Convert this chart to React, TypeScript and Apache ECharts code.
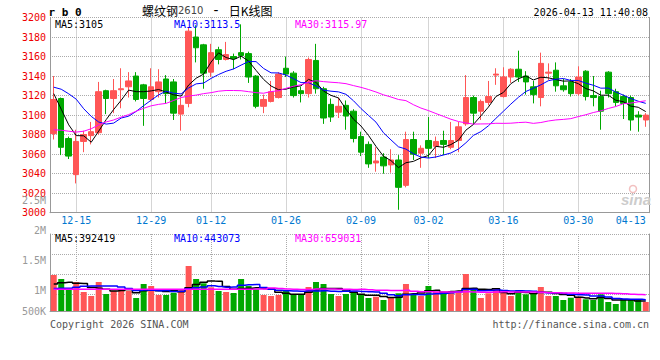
import React, { useEffect, useRef } from 'react';
import * as echarts from 'echarts';

const dates = [
  '12-10','12-11','12-12',
  '12-15','12-16','12-17','12-18','12-19',
  '12-22','12-23','12-24','12-25','12-26',
  '12-29','12-30','12-31',
  '01-05','01-06','01-07','01-08','01-09',
  '01-12','01-13','01-14','01-15','01-16',
  '01-19','01-20','01-21','01-22','01-23',
  '01-26','01-27','01-28','01-29','01-30',
  '02-02','02-03','02-04','02-05','02-06',
  '02-09','02-10','02-11','02-12','02-13',
  '02-24','02-25','02-26','02-27',
  '03-02','03-03','03-04','03-05','03-06',
  '03-09','03-10','03-11','03-12','03-13',
  '03-16','03-17','03-18','03-19','03-20',
  '03-23','03-24','03-25','03-26','03-27',
  '03-30','03-31','04-01','04-02','04-03',
  '04-07','04-08','04-09','04-10',
  '04-13',
];

const opens = [
  3081,3117,3076,3039,3073,3079,3082,3125,3117,3126,
  3129,3140,3131,3116,3124,3137,3134,3101,3112,3180,
  3172,3144,3167,3157,3160,3164,3163,3140,3109,3114,
  3118,3148,3143,3125,3122,3156,3127,3111,3103,3110,
  3104,3078,3070,3051,3057,3049,3054,3028,3075,3061,
  3074,3068,3074,3067,3074,3091,3118,3104,3113,3141,
  3119,3139,3147,3140,3129,3118,3143,3146,3130,3134,
  3122,3145,3120,3119,3144,3124,3119,3118,3100,3095,
];
const closes = [
  3116,3067,3058,3073,3080,3083,3124,3117,3125,3127,
  3135,3116,3117,3129,3134,3122,3102,3110,3186,3169,
  3143,3164,3157,3162,3158,3161,3139,3109,3116,3124,
  3142,3142,3120,3122,3157,3127,3097,3098,3109,3099,
  3076,3062,3050,3053,3048,3054,3026,3075,3060,3066,
  3066,3073,3070,3074,3088,3118,3102,3114,3119,3142,
  3139,3147,3139,3134,3121,3153,3144,3130,3126,3122,
  3139,3119,3118,3104,3122,3113,3112,3095,3098,3100,
];
const lows = [
  3075,3059,3055,3030,3062,3070,3080,3101,3102,3107,
  3118,3114,3089,3114,3118,3112,3095,3084,3108,3154,
  3127,3139,3152,3156,3147,3157,3133,3107,3102,3113,
  3117,3139,3118,3113,3118,3122,3091,3093,3097,3085,
  3072,3058,3046,3042,3040,3041,3003,3026,3054,3046,
  3056,3056,3059,3065,3062,3089,3090,3095,3110,3131,
  3118,3133,3134,3121,3112,3109,3136,3124,3124,3119,
  3120,3115,3109,3085,3118,3109,3096,3084,3083,3088,
];
const highs = [
  3140,3118,3078,3085,3084,3093,3134,3126,3137,3148,
  3144,3144,3132,3148,3147,3141,3137,3118,3190,3192,
  3173,3173,3170,3175,3163,3193,3165,3141,3121,3135,
  3144,3160,3145,3129,3159,3173,3129,3117,3118,3115,
  3106,3083,3073,3067,3061,3065,3059,3083,3083,3069,
  3098,3078,3084,3093,3093,3141,3120,3116,3135,3148,
  3149,3148,3166,3145,3135,3164,3153,3154,3137,3137,
  3150,3146,3140,3125,3145,3127,3121,3120,3104,3102,
];
const volumes = [
  1403000,1247000,857000,1130000,740000,584000,1130000,662000,791000,818000,
  791000,506000,1052000,974000,623000,623000,713000,818000,1753000,1247000,
  1079000,923000,779000,740000,701000,1247000,974000,845000,623000,584000,
  623000,791000,662000,623000,935000,1130000,1052000,662000,584000,662000,
  713000,623000,506000,557000,429000,518000,690000,1052000,662000,584000,
  974000,752000,690000,779000,713000,1442000,818000,506000,690000,857000,
  713000,584000,818000,651000,662000,935000,584000,584000,429000,518000,
  557000,456000,429000,651000,351000,273000,456000,429000,456000,351000,
];

// averages as drawn before enough in-window history exists
const priceMa5Lead = [3122, 3106, 3090, 3079];
const priceMa10Lead = [3128.6, 3126.5, 3121.8, 3116.3, 3106.5, 3098.7, 3092.9, 3090.8, 3091.8];
const priceMa30Lead = [
  3085, 3084.5, 3083.5, 3082.6, 3083.5, 3086, 3090, 3093, 3095, 3098,
  3100.5, 3104, 3107, 3109.5, 3111, 3112, 3115, 3118, 3119.5, 3120.5,
  3122, 3123, 3124.5, 3125.2, 3125.2, 3125, 3124, 3123, 3122.4,
];
const volMa5Lead = [1052000, 1104000, 1117000, 1078000];
const volMa10Lead = [880000, 885000, 890000, 930000, 960000, 970000, 975000, 975000, 975000];
const volMa30Lead = [
  845000, 845000, 846000, 848000, 850000, 850000, 848000, 846000, 845000, 845000,
  845000, 846000, 846000, 845000, 845000, 844000, 844000, 845000, 846000, 848000,
  850000, 850000, 850000, 852000, 852000, 852000, 852000, 853000, 855000,
];

const labelDates = ['12-15', '12-29', '01-12', '01-26', '02-09', '03-02', '03-16', '03-30', '04-13'];
const gridDates = ['12-15', '12-29', '01-12', '01-26', '02-09', '03-02', '03-16', '03-30'];
const volumeTickLabels = ['2.5M', '2M', '1.5M', '1M', '500K'];
const priceMaLabels = ['MA5:3105', 'MA10:3113.5', 'MA30:3115.97'];
const volumeMaLabels = ['MA5:392419', 'MA10:443073', 'MA30:659031'];

const RED = '#ff5656';
const GREEN = '#00a800';
const MA_COLORS = ['#000000', '#0000ff', '#ff00ff'];
const MONO = '"DejaVu Sans Mono", monospace';
const GRID_LINE = { type: 'dotted' as const, color: '#aaaaaa', width: 1 };
const AXIS_LINE = { color: '#999999', width: 1 };

function movingAverage(values: number[], n: number, lead: number[]): number[] {
  return values.map((_, i) => {
    if (i < n - 1) return lead[i];
    let s = 0;
    for (let j = i - n + 1; j <= i; j++) s += values[j];
    return Math.round((s / n) * 100) / 100;
  });
}

export default function App() {
  const ref = useRef<HTMLDivElement>(null);
  useEffect(() => {
    document.body.style.margin = '0';
    const chart = echarts.init(ref.current!, null, { renderer: 'svg' });

    const candleData = dates.map((_, i) => [opens[i], closes[i], lows[i], highs[i]]);
    const volData = volumes.map((v, i) => ({
      value: v,
      itemStyle: { color: closes[i] >= opens[i] ? RED : GREEN },
    }));
    const pMa = [
      movingAverage(closes, 5, priceMa5Lead),
      movingAverage(closes, 10, priceMa10Lead),
      movingAverage(closes, 30, priceMa30Lead),
    ];
    const vMa = [
      movingAverage(volumes, 5, volMa5Lead),
      movingAverage(volumes, 10, volMa10Lead),
      movingAverage(volumes, 30, volMa30Lead),
    ];

    const gridFn = (_i: number, v: string) => gridDates.includes(v);
    const labelFn = (_i: number, v: string) => labelDates.includes(v);

    const maTextX = [55, 174, 295];
    const graphics: any[] = [];
    priceMaLabels.forEach((t, i) =>
      graphics.push({
        type: 'text', x: maTextX[i], y: 24, z: 100,
        style: { text: t, fill: MA_COLORS[i], font: `10px ${MONO}`, verticalAlign: 'middle' },
      })
    );
    volumeMaLabels.forEach((t, i) =>
      graphics.push({
        type: 'text', x: maTextX[i], y: 238.5, z: 100,
        style: { text: t, fill: MA_COLORS[i], font: `10px ${MONO}`, verticalAlign: 'middle' },
      })
    );
    volumeTickLabels.forEach((t, i) =>
      graphics.push({
        type: 'text', x: 46, y: Math.min(200 + 30 * i, 311), z: 100,
        style: { text: t, fill: '#999999', font: `10px ${MONO}`, align: 'right', verticalAlign: 'middle' },
      })
    );
    graphics.push(
      {
        type: 'text', x: 48.5, y: 12, z: 100,
        style: { text: 'r b 0', fill: '#000', font: `bold 11px ${MONO}`, verticalAlign: 'middle' },
      },
      {
        type: 'text', x: 142, y: 10, z: 100,
        style: {
          text: '{a|螺纹钢}{b|2610}{c| - }{a|日K线图}',
          verticalAlign: 'middle',
          rich: {
            a: { fontFamily: '"Noto Sans CJK SC", sans-serif', fontSize: 12, fill: '#000' },
            b: { fontFamily: '"DejaVu Sans", sans-serif', fontSize: 10, fill: '#444' },
            c: { fontFamily: MONO, fontSize: 14, fill: '#000' },
          },
        },
      },
      {
        type: 'text', x: 648, y: 12, z: 100,
        style: { text: '2026-04-13 11:40:08', fill: '#000', font: `10px ${MONO}`, align: 'right', verticalAlign: 'middle' },
      },
      {
        type: 'text', x: 50, y: 324, z: 100,
        style: { text: 'Copyright 2026 SINA.COM', fill: '#555', font: `10px ${MONO}`, verticalAlign: 'middle' },
      },
      {
        type: 'text', x: 649, y: 324, z: 100,
        style: { text: 'http://finance.sina.com.cn', fill: '#555', font: `10px ${MONO}`, align: 'right', verticalAlign: 'middle' },
      },
      {
        type: 'circle', z: 5, shape: { cx: 633, cy: 189, r: 3.5 },
        style: { fill: 'none', stroke: '#f2c0c0', lineWidth: 1.5 },
      },
      {
        type: 'text', x: 636, y: 199, z: 5,
        style: { text: 'sina', fill: '#cccccc', font: 'italic bold 15px "Liberation Sans", sans-serif', align: 'center', verticalAlign: 'middle' },
      }
    );

    const option: any = {
      animation: false,
      backgroundColor: '#ffffff',
      grid: [
        { left: 50, top: 17.5, width: 599.5, height: 195.2 },
        { left: 50, top: 234, width: 599.5, height: 77 },
      ],
      xAxis: [
        {
          type: 'category', gridIndex: 0, data: dates, boundaryGap: true,
          axisLine: { lineStyle: AXIS_LINE }, axisTick: { show: false },
          axisLabel: {
            interval: labelFn, color: '#0078d0', fontFamily: MONO, fontSize: 10, margin: 3,
            alignMaxLabel: 'right', showMaxLabel: true, hideOverlap: false,
          },
          splitLine: { show: true, interval: gridFn, alignWithLabel: true, lineStyle: GRID_LINE },
        },
        {
          type: 'category', gridIndex: 1, data: dates, boundaryGap: true, position: 'top',
          axisLine: { lineStyle: AXIS_LINE }, axisTick: { show: false }, axisLabel: { show: false },
          splitLine: { show: true, interval: gridFn, alignWithLabel: true, lineStyle: GRID_LINE },
        },
      ],
      yAxis: [
        {
          type: 'value', gridIndex: 0, min: 3000, max: 3200, interval: 20,
          axisLine: { show: true, lineStyle: AXIS_LINE }, axisTick: { show: false },
          axisLabel: { color: '#ee0000', fontFamily: MONO, fontSize: 10, margin: 4, formatter: (v: number) => String(v) },
          splitLine: { show: true, lineStyle: GRID_LINE },
        },
        {
          type: 'value', gridIndex: 0, position: 'right', min: 0, max: 1,
          axisLine: { show: true, lineStyle: AXIS_LINE }, axisTick: { show: false },
          axisLabel: { show: false }, splitLine: { show: false },
        },
        {
          type: 'value', gridIndex: 1, min: 0, max: 3000000,
          axisLine: { show: true, lineStyle: AXIS_LINE }, axisTick: { show: false },
          axisLabel: { show: false }, splitLine: { show: false },
        },
        {
          type: 'value', gridIndex: 1, position: 'right', inverse: true, min: 0, max: 3.85, interval: 1,
          axisLine: { show: true, lineStyle: AXIS_LINE }, axisTick: { show: false },
          axisLabel: { show: false }, splitLine: { show: true, lineStyle: GRID_LINE },
        },
      ],
      series: [
        {
          type: 'candlestick', xAxisIndex: 0, yAxisIndex: 0, data: candleData, barWidth: 6,
          itemStyle: { color: RED, color0: GREEN, borderColor: RED, borderColor0: GREEN, borderWidth: 1 },
        },
        ...pMa.map((d, i) => ({
          type: 'line', xAxisIndex: 0, yAxisIndex: 0, data: d, showSymbol: false, symbol: 'none',
          lineStyle: { color: MA_COLORS[i], width: 1 }, z: 3,
        })),
        { type: 'bar', xAxisIndex: 1, yAxisIndex: 2, data: volData, barWidth: 6 },
        ...vMa.map((d, i) => ({
          type: 'line', xAxisIndex: 1, yAxisIndex: 2, data: d, showSymbol: false, symbol: 'none',
          step: 'middle', lineStyle: { color: MA_COLORS[i], width: 1.5 }, z: 3,
        })),
      ],
      graphic: graphics,
    };
    chart.setOption(option);
    return () => chart.dispose();
  }, []);
  return <div ref={ref} style={{ width: 660, height: 360 }} />;
}
